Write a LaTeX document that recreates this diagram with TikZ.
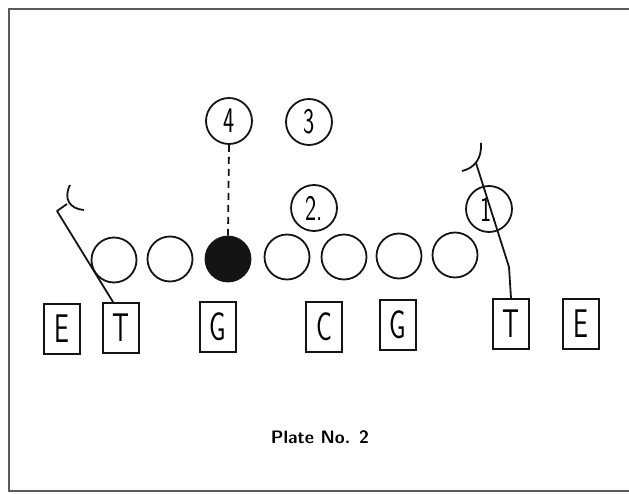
\documentclass[tikz,border=0pt]{standalone}
\usepackage{graphicx}
\usetikzlibrary{positioning}
\definecolor{PlateInk}{RGB}{20,20,20}
\definecolor{FrameGray}{RGB}{90,90,90}
\newcommand{\handmark}[1]{\scalebox{0.66}[1]{#1}}
\tikzset{
	lineman/.style={draw=PlateInk, line width=2pt, inner sep=0pt,
		minimum width=36pt, minimum height=50pt,
		font=\sffamily\fontsize{40}{40}\selectfont},
	defman/.style={circle, draw=PlateInk, line width=1.8pt, inner sep=0pt, minimum size=45pt},
	keyman/.style={defman, fill=PlateInk},
	backman/.style={circle, draw=PlateInk, line width=1.8pt, inner sep=0pt, minimum size=46pt,
		font=\sffamily\fontsize{36}{36}\selectfont},
	block/.style={draw=PlateInk, line width=1.8pt, line join=round},
	route/.style={draw=PlateInk, line width=1.8pt, dash pattern=on 7pt off 5pt}
}
\begin{document}
\begin{tikzpicture}[x=1pt, y=-1pt]
		\useasboundingbox (0,0) rectangle (629,494);
		\draw[FrameGray, line width=1.8pt] (9,9) rectangle (660,491);
		% offensive line
		\node[lineman] (e1) at (62,329) {\handmark{E}};
		\node[lineman] (t1) at (121,328) {\handmark{T}};
		\node[lineman] (g1) at (218,327) {\handmark{G}};
		\node[lineman] (c) at (324,327) {\handmark{C}};
		\node[lineman] (g2) at (398,325) {\handmark{G}};
		\node[lineman] (t2) at (511,324) {\handmark{T}};
		\node[lineman] (e2) at (581,324) {\handmark{E}};
		% defensive line
		\node[defman] (d1) at (114,260) {};
		\node[defman] (d2) at (170,259) {};
		\node[keyman] (d3) at (228,259) {};
		\node[defman] (d4) at (287,257) {};
		\node[defman] (d5) at (344,257) {};
		\node[defman] (d6) at (399,256) {};
		\node[defman] (d7) at (455,255) {};
		% backs
		\node[backman] (b4) at (229,121) {\handmark{4}};
		\node[backman] (b3) at (309,122) {\handmark{3}};
		\node[backman] (b2) at (314,208) {\handmark{2.}};
		\node[backman] (b1) at (489,209) {\handmark{1.}};
		% blocking paths
		\coordinate (lbend) at (57,211);
		\coordinate (lhit) at (67,204);
		\coordinate (rbend) at (509,267);
		\coordinate (rhit) at (476,163);
		\draw[block] ([xshift=-8pt]t1.north) -- (lbend) -- (lhit);
		\draw[block] (70,185) .. controls (63,199) and (70,209) .. (84,210);
		\draw[block] (t2.north) -- (rbend) -- (rhit);
		\draw[block] (481,143) .. controls (482,158) and (475,168) .. (462,171);
		\draw[route] (b4.south) -- (d3.north);
		\node[font=\sffamily\bfseries\fontsize{18}{18}\selectfont] (title) at (320,437) {Plate No. 2};
	\end{tikzpicture}
\end{document}
